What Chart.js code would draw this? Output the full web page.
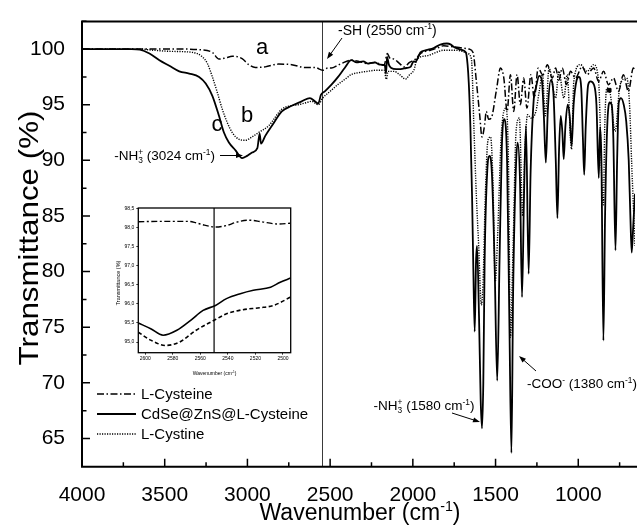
<!DOCTYPE html>
<html>
<head>
<meta charset="utf-8">
<title>FTIR spectra</title>
<script src="https://cdn.jsdelivr.net/npm/chart.js@4.4.1/dist/chart.umd.min.js"></script>
<style>
  html, body { margin: 0; padding: 0; background: #fff; }
  #wrap { position: relative; width: 640px; height: 531px; overflow: hidden; }
  #mainChart { position: absolute; left: 0; top: 0; }
  #insetChart { position: absolute; left: 95px; top: 198px; }
</style>
</head>
<body>
<div id="wrap">
  <canvas id="mainChart" width="640" height="531"></canvas>
  <canvas id="insetChart" width="205" height="185"></canvas>
</div>
<script>
// ---- data (wavenumber cm-1, transmittance %) ----
const cysteine = [ // a, L-Cysteine (dash-dot)
  [4000,100.0],[3800,100.0],[3600,100.0],[3400,100.0],[3300,99.95],[3212,99.7],[3172,99.1],[3132,99.2],
  [3092,99.35],[3032,99.15],[2992,98.6],[2952,98.35],[2892,98.4],[2812,98.65],[2732,98.6],[2652,98.35],
  [2592,98.35],[2545,98.1],[2514,98.3],[2492,98.3],[2454,98.55],[2432,98.7],[2374,99.0],[2330,98.9],
  [2274,98.7],[2230,98.8],[2174,98.55],[2154,99.6],[2140,99.2],[2114,99.1],[2080,98.7],[2054,98.4],
  [2020,98.8],[1984,99.1],[1954,99.6],[1894,99.9],[1850,100.1],[1814,100.3],[1754,100.2],[1700,100.1],
  [1660,100.0],[1636,99.7],[1616,97.1],[1596,94.1],[1582,92.1],[1566,93.2],[1556,94.4],[1542,93.7],
  [1526,93.8],[1496,96.2],[1470,98.3],[1450,97.4],[1430,94.4],[1410,97.7],[1390,94.4],[1370,97.7],
  [1350,95.0],[1330,97.4],[1310,94.7],[1286,97.7],[1266,95.6],[1242,98.3],[1216,97.7],[1207,97.8],
  [1187,98.6],[1157,97.4],[1137,98.3],[1117,97.2],[1097,98.3],[1071,96.8],[1047,98.0],[1017,97.4],
  [977,98.4],[947,97.7],[907,98.3],[877,97.1],[847,98.0],[817,96.8],[787,97.4],[757,96.2],
  [727,97.7],[697,96.2],[667,98.3],[657,98.0]
];
const composite = [ // c, CdSe@ZnS@L-Cysteine (solid)
  [4000,100.0],[3850,100.0],[3700,100.0],[3650,99.95],[3592,99.6],[3532,99.0],[3472,98.5],[3412,98.0],
  [3352,97.8],[3292,97.5],[3252,96.9],[3212,95.8],[3172,94.0],[3142,92.5],[3112,91.6],[3072,90.9],
  [3032,90.2],[3002,90.4],[2972,90.7],[2940,91.1],[2926,92.4],[2918,91.5],[2892,92.2],[2852,93.1],
  [2792,94.4],[2732,94.9],[2672,95.3],[2622,95.6],[2592,95.3],[2572,95.1],[2555,95.9],[2532,96.2],
  [2492,96.8],[2452,97.5],[2412,98.3],[2372,99.0],[2340,98.8],[2300,98.9],[2270,98.7],[2230,98.8],
  [2200,98.6],[2170,98.55],[2162,97.8],[2156,99.3],[2145,98.6],[2130,98.3],[2100,98.2],[2074,98.2],
  [2040,98.3],[2014,98.4],[1995,98.9],[1984,98.85],[1970,99.2],[1954,99.7],[1920,99.9],[1874,100.1],
  [1834,100.4],[1794,100.5],[1770,100.4],[1754,100.2],[1720,100.0],[1700,99.9],[1686,99.8],[1676,99.5],
  [1662,97.0],[1652,93.0],[1642,86.8],[1634,80.0],[1626,74.6],[1618,80.9],[1612,82.3],[1600,76.0],
  [1590,68.5],[1582,65.9],[1574,70.0],[1566,80.9],[1550,89.1],[1536,90.4],[1522,88.8],[1506,80.9],
  [1490,70.2],[1476,80.9],[1462,91.2],[1446,93.7],[1430,89.7],[1416,75.0],[1404,63.7],[1394,77.9],
  [1376,89.7],[1366,91.6],[1352,88.0],[1340,77.7],[1328,86.8],[1316,93.1],[1300,79.8],[1288,89.0],
  [1270,95.3],[1256,96.5],[1236,97.6],[1220,97.2],[1208,94.0],[1196,89.8],[1184,94.5],[1166,97.2],
  [1150,96.0],[1136,90.0],[1126,84.8],[1116,91.0],[1106,94.0],[1096,92.5],[1088,90.1],[1078,93.0],
  [1064,95.0],[1052,94.0],[1040,91.3],[1028,95.0],[1010,97.2],[996,97.5],[982,96.5],[972,92.0],
  [964,88.7],[955,93.0],[940,96.8],[926,97.1],[905,96.8],[890,95.0],[876,88.4],[868,93.0],
  [860,90.0],[848,73.8],[838,85.0],[825,93.0],[810,95.2],[798,95.0],[788,92.0],[775,81.9],
  [765,90.0],[755,95.2],[742,95.6],[725,95.0],[710,93.5],[695,90.0],[685,85.0],[677,81.7],
  [668,84.0],[657,87.0]
];
const cystine = [ // b, L-Cystine (dotted)
  [4000,100.0],[3800,100.0],[3650,100.0],[3572,99.9],[3472,99.8],[3332,99.7],[3272,99.3],[3242,98.7],
  [3212,97.5],[3182,96.1],[3152,94.6],[3122,93.4],[3092,92.5],[3052,91.9],[3012,91.8],[2972,92.1],
  [2932,92.5],[2872,93.1],[2792,94.6],[2740,94.9],[2692,95.0],[2640,95.2],[2612,95.3],[2572,95.0],
  [2545,95.6],[2500,96.2],[2454,96.8],[2400,97.4],[2374,97.7],[2320,97.9],[2274,98.0],[2220,98.1],
  [2174,98.1],[2160,97.3],[2150,98.0],[2114,98.0],[2080,97.7],[2044,97.3],[2020,97.7],[1994,98.1],
  [1974,99.1],[1914,99.4],[1860,99.7],[1814,99.9],[1754,99.9],[1700,99.8],[1670,99.6],[1646,99.1],
  [1630,92.6],[1616,86.8],[1602,82.3],[1586,77.0],[1576,78.8],[1562,86.8],[1546,91.8],[1530,92.1],
  [1516,88.2],[1502,79.1],[1486,83.8],[1466,92.1],[1436,94.7],[1422,89.7],[1410,74.1],[1394,82.3],
  [1376,92.6],[1356,93.8],[1336,85.0],[1322,91.2],[1306,94.1],[1286,93.8],[1256,94.4],[1236,96.2],
  [1216,97.7],[1200,94.0],[1190,95.5],[1177,98.3],[1137,95.6],[1117,98.0],[1087,95.6],[1067,97.7],
  [1041,91.0],[1027,97.1],[987,98.6],[947,98.0],[907,98.6],[877,97.1],[857,88.0],[848,86.0],
  [840,93.0],[827,96.5],[807,96.0],[777,92.6],[747,96.8],[707,97.4],[690,95.0],[677,89.7],[657,82.3]
];
const artefact = [[813, 96.3]];

// inset (2600-2500 cm-1 zoom)
const insetCysteine = [
  [2605,98.16],[2587,98.17],[2569,98.17],[2563,98.13],[2557,98.07],[2549,98.02],[2541,98.06],
  [2533.5,98.15],[2524.6,98.2],[2515.8,98.16],[2504,98.1],[2494.4,98.12]
];
const insetComposite = [
  [2605,95.5],[2596,95.35],[2587,95.18],[2577,95.31],[2567,95.57],[2558,95.83],[2549,95.96],
  [2541,96.14],[2531,96.27],[2521.5,96.36],[2509,96.44],[2502,96.57],[2494.4,96.68]
];
const insetCystine = [
  [2605,95.26],[2596,95.05],[2585,94.91],[2575,95.0],[2563,95.31],[2549,95.59],[2541,95.74],
  [2529,95.85],[2517,95.9],[2507,95.96],[2494.4,96.18]
];

const xTicks = [4000, 3500, 3000, 2500, 2000, 1500, 1000];
const xMinor = [3750, 3250, 2750, 2250, 1750, 1250, 750];
const yTicks = [65, 70, 75, 80, 85, 90, 95, 100];
const yMinor = [67.5, 72.5, 77.5, 82.5, 87.5, 92.5, 97.5, 102.5];
const insetXTicks = [2600, 2580, 2560, 2540, 2520, 2500];
const insetYTicks = [95.0, 95.5, 96.0, 96.5, 97.0, 97.5, 98.0, 98.5];
const shPosition = 2550;

const legendNames = ['L-Cysteine', 'CdSe@ZnS@L-Cysteine', 'L-Cystine'];

const FONT = "'Liberation Sans', Arial, Helvetica, sans-serif";
const DASHDOT = [7, 2.5, 1.5, 2.5];
const DOTTED = [1.2, 1.3];

const pts = arr => arr.map(([x, y]) => ({ x, y }));

// text with sub/superscripts: parts = [text, kind, noAdvance]
function richText(ctx, x, y, parts, size, align) {
  const small = size * 0.62;
  let total = 0;
  parts.forEach(([t, k, stay]) => {
    ctx.font = (k ? small : size) + 'px ' + FONT;
    if (!stay) total += ctx.measureText(t).width;
  });
  let cx = align === 'right' ? x - total : align === 'center' ? x - total / 2 : x;
  ctx.textAlign = 'left';
  ctx.textBaseline = 'alphabetic';
  parts.forEach(([t, k, stay]) => {
    ctx.font = (k ? small : size) + 'px ' + FONT;
    const dy = k === 'sup' ? -size * 0.4 : k === 'sub' ? size * 0.2 : 0;
    ctx.fillText(t, cx, y + dy);
    if (!stay) cx += ctx.measureText(t).width;
  });
}

function arrow(ctx, x1, y1, x2, y2) {
  const ang = Math.atan2(y2 - y1, x2 - x1);
  const hl = 7, hw = 2.6;
  ctx.beginPath();
  ctx.moveTo(x1, y1);
  ctx.lineTo(x2 - Math.cos(ang) * hl * 0.8, y2 - Math.sin(ang) * hl * 0.8);
  ctx.stroke();
  ctx.beginPath();
  ctx.moveTo(x2, y2);
  ctx.lineTo(x2 - Math.cos(ang) * hl - Math.sin(ang) * hw, y2 - Math.sin(ang) * hl + Math.cos(ang) * hw);
  ctx.lineTo(x2 - Math.cos(ang) * hl + Math.sin(ang) * hw, y2 - Math.sin(ang) * hl - Math.cos(ang) * hw);
  ctx.closePath();
  ctx.fill();
}

const mainDecor = {
  id: 'mainDecor',
  beforeDatasetsDraw(chart) {
    const { ctx, chartArea: a, scales: { x } } = chart;
    const xv = Math.round(x.getPixelForValue(shPosition)) + 0.5;
    ctx.save();
    ctx.strokeStyle = '#3a3a3a';
    ctx.lineWidth = 1;
    ctx.beginPath();
    ctx.moveTo(xv, a.top);
    ctx.lineTo(xv, a.bottom);
    ctx.stroke();
    ctx.restore();
  },
  afterDraw(chart) {
    const { ctx, chartArea: a, scales: { x, y } } = chart;
    ctx.save();
    ctx.strokeStyle = '#000';
    ctx.fillStyle = '#000';

    // frame (right side is cut off in the original)
    ctx.lineWidth = 2;
    ctx.beginPath();
    ctx.moveTo(a.right + 2, a.top);
    ctx.lineTo(a.left, a.top);
    ctx.lineTo(a.left, a.bottom);
    ctx.lineTo(a.right + 2, a.bottom);
    ctx.stroke();

    // inward ticks
    ctx.lineWidth = 1.5;
    ctx.beginPath();
    xTicks.forEach(v => { const p = x.getPixelForValue(v); ctx.moveTo(p, a.bottom); ctx.lineTo(p, a.bottom - 8); });
    xMinor.forEach(v => { const p = x.getPixelForValue(v); ctx.moveTo(p, a.bottom); ctx.lineTo(p, a.bottom - 4.5); });
    yTicks.forEach(v => { const p = y.getPixelForValue(v); ctx.moveTo(a.left, p); ctx.lineTo(a.left + 8, p); });
    yMinor.forEach(v => { const p = y.getPixelForValue(v); ctx.moveTo(a.left, p); ctx.lineTo(a.left + 4.5, p); });
    ctx.stroke();

    // axis titles
    richText(ctx, 360, 520, [['Wavenumber (cm', ''], ['-1', 'sup'], [')', '']], 23, 'center');
    ctx.save();
    ctx.translate(28, 238);
    ctx.rotate(-Math.PI / 2);
    ctx.scale(1.12, 1);
    richText(ctx, 0, 10, [['Transmittance (%)', '']], 28, 'center');
    ctx.restore();

    // curve letters
    ctx.font = '22px ' + FONT;
    ctx.textAlign = 'center';
    ctx.textBaseline = 'middle';
    ctx.fillText('a', 262, 48);
    ctx.fillText('b', 247, 116);
    ctx.fillText('c', 217, 125);

    // annotations
    ctx.lineWidth = 1;
    richText(ctx, 215, 160, [['-NH', ''], ['3', 'sub', true], ['+', 'sup'], [' (3024 cm', ''], ['-1', 'sup'], [')', '']], 13.5, 'right');
    arrow(ctx, 220, 155.5, 243, 155.5);

    richText(ctx, 338, 35, [['-SH (2550 cm', ''], ['-1', 'sup'], [')', '']], 14, 'left');
    arrow(ctx, 342, 38, 327, 59);

    richText(ctx, 424, 410, [['-NH', ''], ['3', 'sub', true], ['+', 'sup'], [' (1580 cm', ''], ['-1', 'sup'], [')', '']], 13.5, 'center');
    arrow(ctx, 452, 413, 480, 422);

    richText(ctx, 527, 388, [['-COO', ''], ['-', 'sup'], [' (1380 cm', ''], ['-1', 'sup'], [')', '']], 13.5, 'left');
    arrow(ctx, 536, 371, 519, 356);

    // legend
    const styles = [
      { dash: DASHDOT, w: 1.5 },
      { dash: [], w: 1.8 },
      { dash: DOTTED, w: 1.4 }
    ];
    legendNames.forEach((name, i) => {
      const ly = 394 + i * 20;
      ctx.save();
      ctx.lineWidth = styles[i].w;
      ctx.setLineDash(styles[i].dash);
      ctx.beginPath();
      ctx.moveTo(97, ly);
      ctx.lineTo(136, ly);
      ctx.stroke();
      ctx.restore();
      richText(ctx, 141, ly + 5.4, [[name, '']], 15, 'left');
    });
    ctx.restore();
  }
};

new Chart(document.getElementById('mainChart'), {
  type: 'line',
  data: {
    datasets: [
      { label: legendNames[2], data: pts(cystine), borderColor: '#000', borderWidth: 1.4, borderDash: DOTTED },
      { label: legendNames[0], data: pts(cysteine), borderColor: '#000', borderWidth: 1.5, borderDash: DASHDOT },
      { label: legendNames[1], data: pts(composite), borderColor: '#000', borderWidth: 1.8 },
      { label: 'artefact', data: pts(artefact), showLine: false, pointStyle: 'rect', pointRadius: 2.6,
        backgroundColor: '#000', borderColor: '#000' }
    ]
  },
  options: {
    animation: false,
    responsive: false,
    events: [],
    layout: { padding: { top: 14, right: 0, left: 0, bottom: 0 } },
    elements: { point: { radius: 0 }, line: { cubicInterpolationMode: 'monotone', fill: false } },
    plugins: { legend: { display: false }, tooltip: { enabled: false } },
    scales: {
      x: {
        type: 'linear', reverse: true, min: 657, max: 4000,
        afterBuildTicks: s => { s.ticks = xTicks.map(v => ({ value: v })); },
        afterFit: s => { s.height = 64.3; },
        grid: { display: false },
        border: { display: false },
        ticks: { color: '#000', font: { size: 21, family: FONT }, padding: 8, maxRotation: 0, autoSkip: false,
                 callback: v => String(v) }
      },
      y: {
        type: 'linear', min: 62.46, max: 102.47,
        afterBuildTicks: s => { s.ticks = yTicks.map(v => ({ value: v })); },
        afterFit: s => { s.width = 82; },
        grid: { display: false },
        border: { display: false },
        ticks: { color: '#000', font: { size: 21, family: FONT }, padding: 9, autoSkip: false,
                 callback: v => String(v) }
      }
    }
  },
  plugins: [mainDecor]
});

// ---- inset ----
const insetDecor = {
  id: 'insetDecor',
  beforeDatasetsDraw(chart) {
    const { ctx, chartArea: a, scales: { x } } = chart;
    const xv = x.getPixelForValue(shPosition);
    ctx.save();
    ctx.strokeStyle = '#000';
    ctx.lineWidth = 1.2;
    ctx.beginPath();
    ctx.moveTo(xv, a.top);
    ctx.lineTo(xv, a.bottom);
    ctx.stroke();
    ctx.restore();
  },
  afterDraw(chart) {
    const { ctx, chartArea: a } = chart;
    ctx.save();
    ctx.strokeStyle = '#000';
    ctx.fillStyle = '#000';
    ctx.lineWidth = 1.3;
    ctx.strokeRect(a.left, a.top, a.right - a.left, a.bottom - a.top);
    richText(ctx, (a.left + a.right) / 2, 177, [['Wavenumber (cm', ''], ['-1', 'sup'], [')', '']], 5, 'center');
    ctx.translate(23, 85);
    ctx.rotate(-Math.PI / 2);
    richText(ctx, 0, 1.8, [['Transmittance (%)', '']], 5.5, 'center');
    ctx.restore();
  }
};

new Chart(document.getElementById('insetChart'), {
  type: 'line',
  data: {
    datasets: [
      { label: legendNames[0], data: pts(insetCysteine), borderColor: '#000', borderWidth: 1.4, borderDash: [6, 2.5, 2, 2.5] },
      { label: legendNames[1], data: pts(insetComposite), borderColor: '#000', borderWidth: 1.6 },
      { label: legendNames[2], data: pts(insetCystine), borderColor: '#000', borderWidth: 1.6, borderDash: [4, 2.5] }
    ]
  },
  options: {
    animation: false,
    responsive: false,
    events: [],
    layout: { padding: { top: 10, right: 9.3, left: 0, bottom: 0 } },
    elements: { point: { radius: 0 }, line: { cubicInterpolationMode: 'monotone', fill: false } },
    plugins: { legend: { display: false }, tooltip: { enabled: false } },
    scales: {
      x: {
        type: 'linear', reverse: true, min: 2494.4, max: 2605,
        afterBuildTicks: s => { s.ticks = insetXTicks.map(v => ({ value: v })); },
        afterFit: s => { s.height = 30.3; },
        grid: { display: true, drawOnChartArea: false, tickLength: 2, color: '#000', lineWidth: 0.8 },
        border: { display: false },
        ticks: { color: '#000', font: { size: 5, family: FONT }, padding: 1, maxRotation: 0, autoSkip: false,
                 callback: v => String(v) }
      },
      y: {
        type: 'linear', min: 94.72, max: 98.52,
        afterBuildTicks: s => { s.ticks = insetYTicks.map(v => ({ value: v })); },
        afterFit: s => { s.width = 43.3; },
        grid: { display: true, drawOnChartArea: false, tickLength: 2, color: '#000', lineWidth: 0.8 },
        border: { display: false },
        ticks: { color: '#000', font: { size: 5, family: FONT }, padding: 2, autoSkip: false,
                 callback: v => v.toFixed(1).replace('.', ',') }
      }
    }
  },
  plugins: [insetDecor]
});
</script>
</body>
</html>
